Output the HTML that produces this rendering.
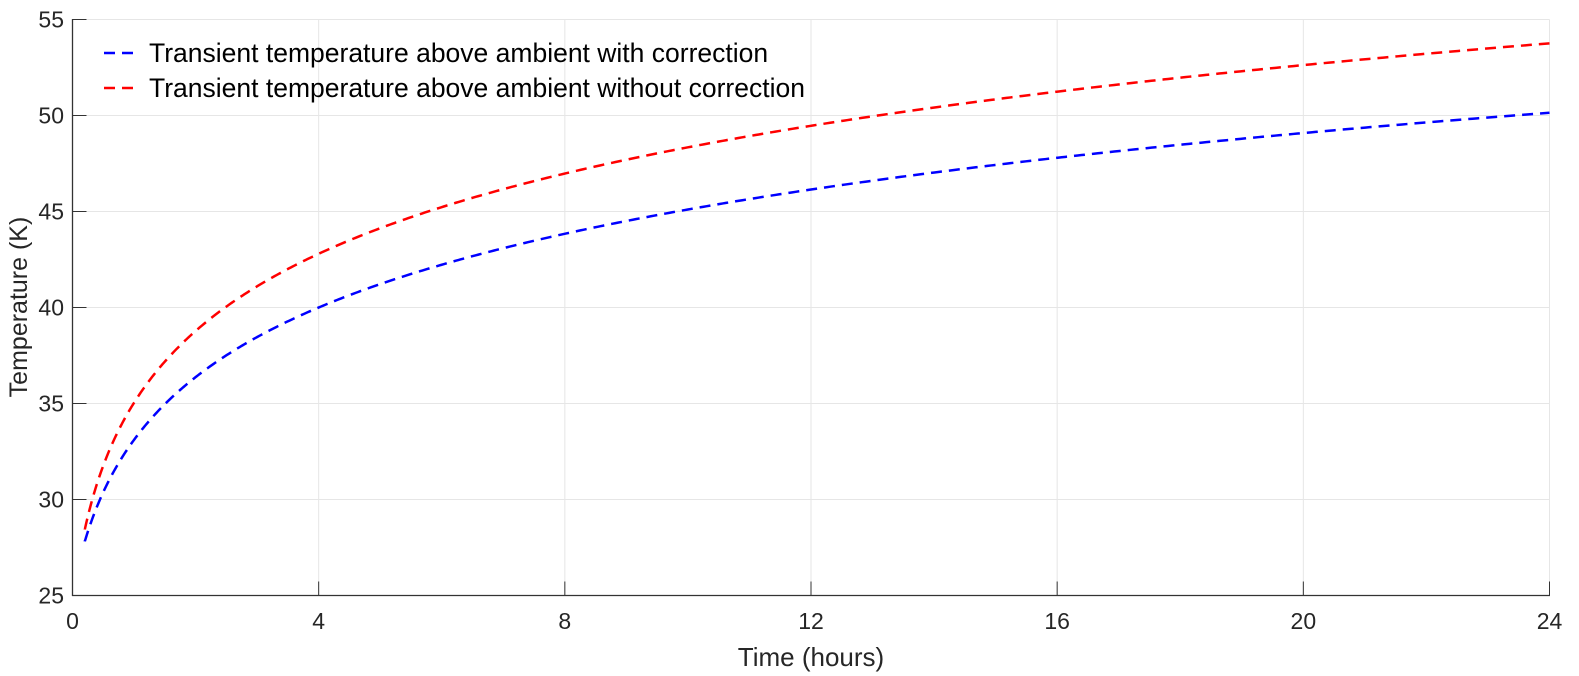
<!DOCTYPE html>
<html><head><style>body{margin:0;background:#fff;overflow:hidden}svg{display:block;font-family:"Liberation Sans",Arial,sans-serif}</style></head>
<body>
<svg id="s" width="1579" height="676" xmlns="http://www.w3.org/2000/svg">
<rect width="1579" height="676" fill="#fff"/>
<g id="grid" stroke="#e6e6e6" stroke-width="1"></g>
<g id="ticks" stroke="#333" stroke-width="1"></g>
<line x1="72.5" y1="19" x2="72.5" y2="596" stroke="#333" stroke-width="1.3"/>
<line x1="72" y1="595.5" x2="1550" y2="595.5" stroke="#333" stroke-width="1.3"/>
<g id="labels" font-size="23" fill="#262626"></g>
<path id="blue" fill="none" stroke="#0000ff" stroke-width="2.5" stroke-dasharray="11,7"/>
<path id="red" fill="none" stroke="#ff0000" stroke-width="2.5" stroke-dasharray="11,7"/>
<line x1="104" y1="53" x2="140" y2="53" stroke="#0000ff" stroke-width="2.5" stroke-dasharray="11,7"/>
<line x1="104" y1="88" x2="140" y2="88" stroke="#ff0000" stroke-width="2.5" stroke-dasharray="11,7"/>
<text x="149" y="62" font-size="26.5" fill="#000">Transient temperature above ambient with correction</text>
<text x="149" y="97" font-size="26.5" fill="#000">Transient temperature above ambient without correction</text>
<text x="811" y="666" font-size="26" fill="#262626" text-anchor="middle">Time (hours)</text>
<text transform="translate(27,307) rotate(-90)" font-size="25" fill="#262626" text-anchor="middle">Temperature (K)</text>
</svg>
<script>
var X0=72.5,X1=1549.5,Y0=595.5,Y1=19.5;
function px(t){return X0+(X1-X0)*t/24}
function py(v){return Y0-(Y0-Y1)*(v-25)/30}
var ns="http://www.w3.org/2000/svg";
function el(p,n,a,txt){var e=document.createElementNS(ns,n);for(var k in a)e.setAttribute(k,a[k]);if(txt!=null)e.textContent=txt;document.getElementById(p).appendChild(e);}
for(var t=0;t<=24;t+=4){var x=px(t);if(t>0)el("grid","line",{x1:x,y1:Y1,x2:x,y2:Y0});el("ticks","line",{x1:x,y1:Y0,x2:x,y2:Y0-14});el("labels","text",{x:x,y:629,"text-anchor":"middle"},t);}
for(var v=25;v<=55;v+=5){var y=py(v);if(v>25)el("grid","line",{x1:X0,y1:y,x2:X1,y2:y});el("ticks","line",{x1:X0,y1:y,x2:X0+14,y2:y});el("labels","text",{x:64,y:y+8,"text-anchor":"end"},v);}
function path(a,b,c){var d="";for(var i=0;i<=600;i++){var t=0.2+(23.8)*Math.pow(i/600,2);var v=a+b*Math.log(t+c);d+=(i?"L":"M")+px(t).toFixed(2)+","+py(v).toFixed(2);}return d;}
document.getElementById("blue").setAttribute("d",path(31.34,5.89,0.35));
document.getElementById("red").setAttribute("d",path(33.74,6.28,0.23));
</script>
</body></html>
